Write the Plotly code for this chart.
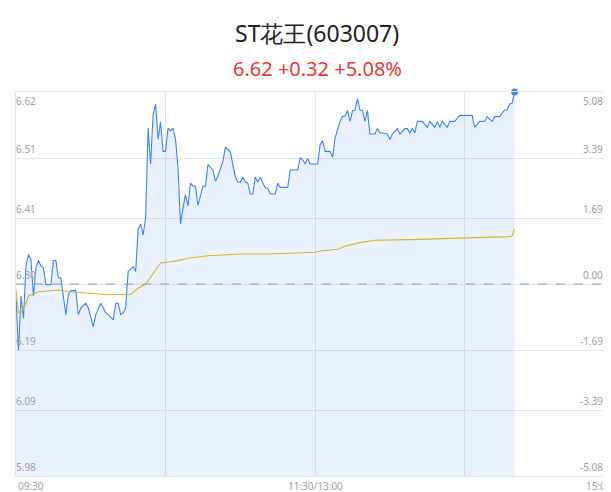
import plotly.graph_objects as go

pre_close = 6.30
price_min = [0,1,2,3,4,5,6,7,8,9,10,11,12,14,15,16,17,18,20,21,22,24,25,26,28,29,31,32,34,36,37,39,40,41,42,43,44,45,47,48,49,50,51,52,53,54,55,56,57,58,59,60,61,62,63,64,65,66,67,68,69,70,71,72,73,74,75,76,77,79,80,81,83,84,85,86,88,89,90,91,92,93,94,95,96,97,98,99,100,101,102,104,105,106,109,110,113,114,115,116,117,118,121,122,123,124,126,127,128,130,131,132,133,134,135,136,137,138,139,140,141,142,144,145,146,149,150,151,153,154,156,157,158,159,160,161,163,165,166,168,169,170,171,173,174,176,178,183,184,186,188,189,191,192,194,196,197,198,199,200]
price_val = [6.277,6.19,6.28,6.243,6.33,6.349,6.34,6.28,6.327,6.339,6.33,6.327,6.299,6.299,6.339,6.339,6.31,6.31,6.249,6.282,6.289,6.289,6.249,6.26,6.268,6.26,6.229,6.249,6.268,6.252,6.249,6.24,6.268,6.268,6.249,6.252,6.26,6.321,6.329,6.321,6.391,6.40,6.382,6.41,6.56,6.50,6.582,6.60,6.541,6.57,6.521,6.521,6.56,6.555,6.56,6.541,6.493,6.40,6.427,6.449,6.43,6.468,6.463,6.463,6.431,6.445,6.463,6.463,6.499,6.49,6.471,6.48,6.504,6.528,6.524,6.52,6.478,6.47,6.47,6.478,6.47,6.468,6.45,6.45,6.478,6.47,6.478,6.468,6.46,6.46,6.45,6.45,6.468,6.461,6.461,6.49,6.49,6.51,6.507,6.50,6.509,6.50,6.50,6.532,6.539,6.521,6.521,6.511,6.543,6.571,6.579,6.58,6.589,6.571,6.589,6.59,6.609,6.59,6.589,6.571,6.589,6.55,6.55,6.559,6.552,6.55,6.541,6.55,6.559,6.55,6.559,6.559,6.552,6.559,6.552,6.571,6.571,6.561,6.571,6.561,6.571,6.561,6.571,6.561,6.571,6.571,6.581,6.581,6.561,6.571,6.571,6.579,6.571,6.579,6.579,6.59,6.59,6.60,6.601,6.62]
avg_min = [0,1,3,5,9,17,21,29,37,46,49,52,55,58,62,65,69,77,90,101,120,122,129,132,138,144,158,178,198,199,200]
avg_val = [6.29,6.252,6.257,6.28,6.287,6.29,6.287,6.284,6.282,6.283,6.293,6.30,6.317,6.335,6.337,6.339,6.343,6.347,6.35,6.35,6.353,6.355,6.358,6.363,6.369,6.373,6.374,6.376,6.379,6.38,6.392]
y_ticks = [6.62,6.51,6.41,6.30,6.19,6.09,5.98]
pct_ticks = ["5.08%","3.39%","1.69%","0.00%","-1.69%","-3.39%","-5.08%"]
x_ticks = [0,120,240]
x_labels = ["09:30","11:30/13:00","15:00"]

blue = "#3d84f2"
grey = "#9aa0ab"
fig = go.Figure()
fig.add_trace(go.Scatter(x=price_min, y=price_val, mode="lines", line=dict(color=blue, width=1.1),
                         fill="tozeroy", fillcolor="rgba(61,132,242,0.11)", hoverinfo="skip"))
fig.add_trace(go.Scatter(x=avg_min, y=avg_val, mode="lines", line=dict(color="#d3b526", width=1.1), hoverinfo="skip"))
fig.add_trace(go.Scatter(x=price_min[-1:], y=price_val[-1:], mode="markers", marker=dict(color=blue, size=7),
                         hoverinfo="skip", cliponaxis=False))
fig.add_hline(y=pre_close, line=dict(color="#8f9bb3", width=1, dash="dash"))

for i, (v, p) in enumerate(zip(y_ticks, pct_ticks)):
    ya = "top" if i == 0 else "bottom"
    fig.add_annotation(x=0, y=v, xref="paper", yref="y", text=f"{v:.2f}", showarrow=False,
                       xanchor="left", yanchor=ya, font=dict(size=10, color=grey), xshift=-2)
    fig.add_annotation(x=1, y=v, xref="paper", yref="y", text=p, showarrow=False,
                       xanchor="right", yanchor=ya, font=dict(size=10, color=grey), xshift=-5)

for xv, lab, xa in zip(x_ticks, x_labels, ["left", "center", "right"]):
    fig.add_annotation(x=xv, y=0, xref="x", yref="paper", text=lab, showarrow=False, xanchor=xa,
                       yanchor="top", yshift=-1, font=dict(size=10, color=grey))

fig.add_annotation(x=0.5, y=1, xref="paper", yref="paper", yshift=59, text="ST花王(603007)", showarrow=False,
                   font=dict(size=23, color="#222"), yanchor="middle")
fig.add_annotation(x=0.5, y=1, xref="paper", yref="paper", yshift=24, text="6.62 +0.32 +5.08%", showarrow=False,
                   font=dict(size=20, color="#e5383b"), yanchor="middle")

fig.update_layout(width=611, height=492, margin=dict(l=8, r=1, t=84, b=24, autoexpand=False),
                  paper_bgcolor="white", plot_bgcolor="white", showlegend=False,
                  font=dict(family="Noto Sans, sans-serif"))
fig.update_xaxes(range=[0, 241.5], tickvals=[60, 120, 180], showticklabels=False, showgrid=True, gridcolor="#e3e7ef",
                 zeroline=False, showline=True, linecolor="#e3e7ef", mirror=True, ticks="",
                 fixedrange=True, automargin=False)
fig.update_yaxes(range=[5.98, 6.62], tickvals=y_ticks, showticklabels=False, showgrid=True, gridcolor="#e3e7ef",
                 zeroline=False, showline=True, linecolor="#e3e7ef", mirror=True, fixedrange=True, automargin=False)
fig.write_html("out.html")
